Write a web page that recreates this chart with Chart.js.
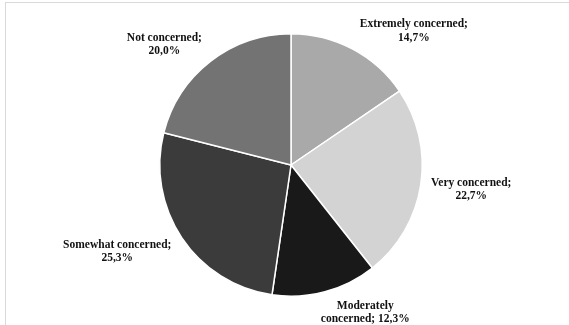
<!DOCTYPE html>
<html>
<head>
<meta charset="utf-8">
<script src="https://cdn.jsdelivr.net/npm/chart.js@4"></script>
<style>
  html, body { margin: 0; padding: 0; background: #fff; }
  body { width: 569px; height: 325px; overflow: hidden; position: relative; }
  .frame { position: absolute; left: 5px; top: 2px; width: 700px; height: 500px; border: 1px solid #d9d9d9; }
  #wrap { position: absolute; left: 0; top: 0; width: 569px; height: 325px; }
</style>
</head>
<body>
<div class="frame"></div>
<div id="wrap"><canvas id="chart"></canvas></div>
<script>
// concern levels, clockwise from 12 o'clock
const categories = ["Extremely concerned", "Very concerned", "Moderately concerned", "Somewhat concerned", "Not concerned"];
const shares = [14.7, 22.7, 12.3, 25.3, 20.0];
const sliceColors = ["#a9a9a9", "#d3d3d3", "#191919", "#3b3b3b", "#737373"];
// how many words go on the first line of each label
const firstLineWords = [2, 2, 1, 2, 2];

const pctText = (v) => v.toFixed(1).replace(".", ",") + "%";

function labelLines(i) {
  const words = (categories[i] + "; " + pctText(shares[i])).split(" ");
  const n = firstLineWords[i];
  return [words.slice(0, n).join(" "), words.slice(n).join(" ")];
}

const outsideLabels = {
  id: "outsideLabels",
  afterDatasetsDraw(chart, args, opts) {
    const ctx = chart.ctx;
    const meta = chart.getDatasetMeta(0);
    ctx.save();
    ctx.font = "bold 11.5px 'Liberation Serif', 'Times New Roman', serif";
    ctx.fillStyle = "#111";
    ctx.textAlign = "center";
    ctx.textBaseline = "middle";
    meta.data.forEach((arc, i) => {
      const p = arc.getProps(["x", "y", "startAngle", "endAngle", "outerRadius"], true);
      const mid = (p.startAngle + p.endAngle) / 2;
      const r = p.outerRadius + opts.distance;
      const nudge = opts.nudges[i] || [0, 0];
      const x = p.x + Math.cos(mid) * r + nudge[0];
      const y = p.y + Math.sin(mid) * r + nudge[1];
      const lines = labelLines(i);
      lines.forEach((line, k) => {
        ctx.fillText(line, x, y + (k - (lines.length - 1) / 2) * opts.lineHeight);
      });
    });
    ctx.restore();
  }
};

new Chart(document.getElementById("chart"), {
  type: "pie",
  data: {
    labels: categories,
    datasets: [{
      data: shares,
      backgroundColor: sliceColors,
      borderColor: "#ffffff",
      borderWidth: 1.5
    }]
  },
  options: {
    responsive: true,
    maintainAspectRatio: false,
    animation: false,
    layout: { padding: { left: 149, right: 136, top: 33, bottom: 28 } },
    plugins: {
      legend: { display: false },
      tooltip: { enabled: false },
      outsideLabels: {
        distance: 44,
        lineHeight: 13.5,
        nudges: [[41, 21], [7, -2], [29, -22], [-28, -11], [-19, 18]]
      }
    }
  },
  plugins: [outsideLabels]
});
</script>
</body>
</html>
